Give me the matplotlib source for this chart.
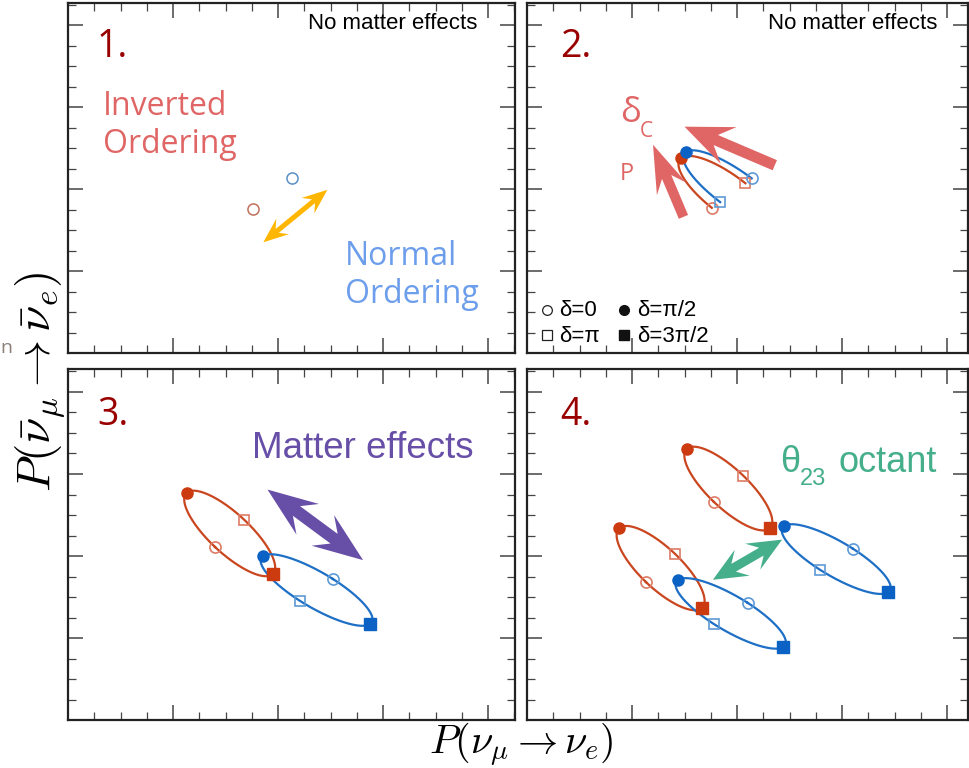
import numpy as np
import matplotlib.pyplot as plt
from matplotlib.patches import Polygon
from matplotlib.ticker import MultipleLocator

plt.rcParams['mathtext.fontset'] = 'cm'

# ellipse points, ordered delta = 0, pi/2, pi, 3pi/2
# panel 1: vacuum, both orderings collapse to a point
p1_io_x, p1_io_y = [1.76], [1.76]
p1_no_x, p1_no_y = [2.13], [2.13]

# panel 2: vacuum, delta in [0, pi] only
p2_no_x = [2.14, 1.51, 1.84]
p2_no_y = [2.13, 2.45, 1.84]
p2_io_x = [1.76, 1.47, 2.08]
p2_io_y = [1.77, 2.38, 2.07]

# panel 3: with matter effects
p3_io_x = [1.40, 1.13, 1.68, 1.95]
p3_io_y = [2.11, 2.77, 2.44, 1.78]
p3_no_x = [2.52, 1.86, 2.21, 2.88]
p3_no_y = [1.72, 2.00, 1.45, 1.17]

# panel 4: two theta23 octants for each ordering
p4_io_hi_x = [1.78, 1.52, 2.06, 2.31]
p4_io_hi_y = [2.66, 3.31, 2.98, 2.34]
p4_io_lo_x = [1.13, 0.88, 1.41, 1.67]
p4_io_lo_y = [1.68, 2.34, 2.02, 1.37]
p4_no_hi_x = [3.10, 2.45, 2.79, 3.44]
p4_no_hi_y = [2.09, 2.37, 1.83, 1.56]
p4_no_lo_x = [2.10, 1.44, 1.78, 2.44]
p4_no_lo_y = [1.43, 1.71, 1.17, 0.89]

# annotation arrows (start, end)
arrow_order = [(1.86, 1.35), (2.47, 1.99)]
arrow_dcp = [(2.36, 2.29), (1.50, 2.76)]
arrow_p = [(1.49, 1.66), (1.20, 2.54)]
arrow_matter = [(1.90, 2.81), (2.81, 1.95)]
arrow_octant = [(1.77, 1.71), (2.43, 2.20)]

RED_LINE, RED_FILL, RED_OPEN = '#C9461F', '#CC3A10', '#DE7B66'
BLUE_LINE, BLUE_FILL, BLUE_OPEN = '#1E6FC6', '#0B62C4', '#5D9AD6'
LABEL_RED = '#990000'
PX_X, PX_Y = 105.0, 82.0  # pixels per axis unit

W, H = 969, 768
fig = plt.figure(figsize=(W / 100, H / 100), dpi=100)


def make_ax(left, top, width, height):
    ax = fig.add_axes([left / W, 1 - (top + height) / H, width / W, height / H])
    ax.set_xlim(0, width / PX_X)
    ax.set_ylim(0, height / PX_Y)
    ax.xaxis.set_major_locator(MultipleLocator(1))
    ax.xaxis.set_minor_locator(MultipleLocator(0.25))
    ax.yaxis.set_major_locator(MultipleLocator(1))
    ax.yaxis.set_minor_locator(MultipleLocator(0.25))
    ax.tick_params(which='both', direction='in', top=True, right=True,
                   labelbottom=False, labelleft=False, colors='#444444')
    ax.tick_params(which='major', length=11, width=1.1)
    ax.tick_params(which='minor', length=6, width=0.9)
    for s in ax.spines.values():
        s.set_linewidth(1.6)
        s.set_color('#222222')
    return ax


def ellipse(xs, ys, half=False):
    xs, ys = np.array(xs), np.array(ys)
    if half:
        cx, cy = (xs[0] + xs[2]) / 2, (ys[0] + ys[2]) / 2
        bx, by = xs[1] - cx, ys[1] - cy
        d = np.linspace(0, np.pi, 200)
    else:
        cx, cy = xs.mean(), ys.mean()
        bx, by = (xs[1] - xs[3]) / 2, (ys[1] - ys[3]) / 2
        d = np.linspace(0, 2 * np.pi, 300)
    ax_, ay_ = (xs[0] - xs[2]) / 2, (ys[0] - ys[2]) / 2
    return cx + ax_ * np.cos(d) + bx * np.sin(d), cy + ay_ * np.cos(d) + by * np.sin(d)


def draw_ellipse(ax, xs, ys, line, fill, open_c, half=False):
    ex, ey = ellipse(xs, ys, half)
    ax.plot(ex, ey, color=line, lw=1.6, zorder=2)
    ax.plot(xs[0], ys[0], 'o', ms=8, mfc='none', mec=open_c, mew=1.2, zorder=3)
    ax.plot(xs[1], ys[1], 'o', ms=8, color=fill, zorder=3)
    ax.plot(xs[2], ys[2], 's', ms=7.5, mfc='none', mec=open_c, mew=1.2, zorder=3)
    if not half:
        ax.plot(xs[3], ys[3], 's', ms=8, color=fill, zorder=3)


def arrow(ax, p0, p1, color, w, L, hw, s, double=True):
    t = ax.transData
    a, b = t.transform(p0), t.transform(p1)
    u = (b - a) / np.hypot(*(b - a))
    n = np.array([-u[1], u[0]])
    pts = [b, b - u * L + n * hw / 2, b - u * (L - s) + n * w / 2]
    if double:
        pts += [a + u * (L - s) + n * w / 2, a + u * L + n * hw / 2, a,
                a + u * L - n * hw / 2, a + u * (L - s) - n * w / 2]
    else:
        pts += [a + n * w / 2, a - n * w / 2]
    pts += [b - u * (L - s) - n * w / 2, b - u * L - n * hw / 2]
    ax.add_patch(Polygon(t.inverted().transform(np.array(pts)), closed=True,
                         color=color, lw=0, zorder=4))


open_font = 'Open Sans'
sans_font = 'Liberation Sans'

# --- panel 1 ---
ax1 = make_ax(68, 3, 447, 350)
ax1.plot(p1_io_x, p1_io_y, 'o', ms=8, mfc='none', mec='#C0705A', mew=1.1)
ax1.plot(p1_no_x, p1_no_y, 'o', ms=8, mfc='none', mec='#5A8FC8', mew=1.1)
arrow(ax1, *arrow_order, '#FFB600', 5, 25, 20, 7)
ax1.text(0.276, 3.61, '1.', fontsize=27, color=LABEL_RED, family=open_font)
ax1.text(0.333, 2.90, 'Inverted', fontsize=23, color='#E06666', family=open_font)
ax1.text(0.333, 2.44, 'Ordering', fontsize=23, color='#E06666', family=open_font)
ax1.text(2.638, 1.07, 'Normal', fontsize=23, color='#6D9EEB', family=open_font)
ax1.text(2.638, 0.61, 'Ordering', fontsize=23, color='#6D9EEB', family=open_font)
ax1.text(3.895, 3.95, 'No matter effects', fontsize=16, ha='right', family=sans_font)

# --- panel 2 ---
ax2 = make_ax(527, 3, 441, 350)
draw_ellipse(ax2, p2_io_x, p2_io_y, RED_LINE, RED_FILL, RED_OPEN, half=True)
draw_ellipse(ax2, p2_no_x, p2_no_y, BLUE_LINE, BLUE_FILL, BLUE_OPEN, half=True)
arrow(ax2, *arrow_dcp, '#E06666', 11, 48, 40, 14, double=False)
arrow(ax2, *arrow_p, '#E06666', 10, 48, 32, 13, double=False)
ax2.text(0.314, 3.61, '2.', fontsize=27, color=LABEL_RED, family=open_font)
ax2.text(3.905, 3.95, 'No matter effects', fontsize=16, ha='right', family=sans_font)
ax2.text(0.886, 2.82, 'δ', fontsize=25, color='#E06666', family=open_font)
ax2.text(1.076, 2.63, 'C', fontsize=15, color='#E06666', family=open_font)
ax2.text(0.886, 2.11, 'P', fontsize=17, color='#E06666', family=open_font)
ax2.plot(0.19, 0.524, 'o', ms=7, mfc='none', mec='#222222', mew=0.9)
ax2.plot(0.924, 0.524, 'o', ms=7, color='#111111')
ax2.plot(0.19, 0.22, 's', ms=6.5, mfc='none', mec='#222222', mew=0.9)
ax2.plot(0.924, 0.22, 's', ms=6.5, color='#111111')
for x, y, s in [(0.305, 0.45, 'δ=0'), (1.048, 0.45, 'δ=π/2'),
                (0.305, 0.14, 'δ=π'), (1.048, 0.14, 'δ=3π/2')]:
    ax2.text(x, y, s, fontsize=16, family=sans_font)

# --- panel 3 ---
ax3 = make_ax(68, 369, 447, 351)
draw_ellipse(ax3, p3_io_x, p3_io_y, RED_LINE, RED_FILL, RED_OPEN)
draw_ellipse(ax3, p3_no_x, p3_no_y, BLUE_LINE, BLUE_FILL, BLUE_OPEN)
arrow(ax3, *arrow_matter, '#674EA7', 12, 50, 38, 14)
ax3.text(0.276, 3.60, '3.', fontsize=27, color=LABEL_RED, family=open_font)
ax3.text(1.752, 3.195, 'Matter effects', fontsize=26.5, color='#674EA7', family=sans_font)

# --- panel 4 ---
ax4 = make_ax(527, 369, 441, 351)
draw_ellipse(ax4, p4_io_hi_x, p4_io_hi_y, RED_LINE, RED_FILL, RED_OPEN)
draw_ellipse(ax4, p4_io_lo_x, p4_io_lo_y, RED_LINE, RED_FILL, RED_OPEN)
draw_ellipse(ax4, p4_no_hi_x, p4_no_hi_y, BLUE_LINE, BLUE_FILL, BLUE_OPEN)
draw_ellipse(ax4, p4_no_lo_x, p4_no_lo_y, BLUE_LINE, BLUE_FILL, BLUE_OPEN)
arrow(ax4, *arrow_octant, '#45AE8A', 9, 34, 30, 10)
ax4.text(0.314, 3.60, '4.', fontsize=27, color=LABEL_RED, family=open_font)
ax4.text(2.41, 3.02, 'θ', fontsize=26, color='#45AE8A', family=sans_font)
ax4.text(2.60, 2.866, '23', fontsize=17, color='#45AE8A', family=sans_font)
ax4.text(2.962, 3.02, 'octant', fontsize=26, color='#45AE8A', family=sans_font)

# shared axis labels
fig.text(0.538, 0.030, r'$P(\nu_\mu \rightarrow \nu_e)$', fontsize=29,
         ha='center', va='center')
fig.text(0.0425, 0.503, r'$P(\bar{\nu}_\mu \rightarrow \bar{\nu}_e)$', fontsize=34,
         ha='center', va='center', rotation=90)
fig.text(0.0005, 0.54, 'n', fontsize=14, color='#8c8078', family=open_font)

fig.savefig('out.png', dpi=100)
